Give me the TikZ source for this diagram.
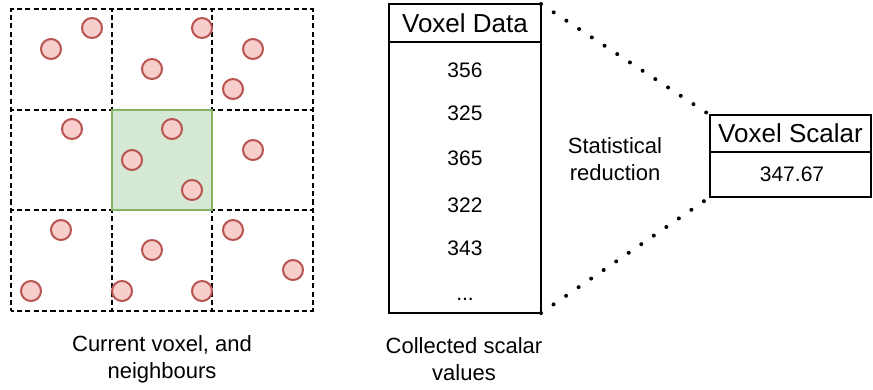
\documentclass[tikz,border=0pt]{standalone}
\usepackage{fontspec}
\setmainfont{Liberation Sans}
\usetikzlibrary{positioning}
\definecolor{sampfill}{HTML}{F8CECC}
\definecolor{sampdraw}{HTML}{B85450}
\definecolor{curfill}{HTML}{D5E8D4}
\definecolor{curdraw}{HTML}{82B366}

\begin{document}
\begin{tikzpicture}[x=1pt, y=-1pt, node distance=0pt]
    \tikzstyle{cell}=[rectangle, minimum size=100.67pt, inner sep=0pt, outer sep=0pt, draw=black, line width=2pt, dash pattern=on 5.2pt off 3.189pt, dash phase=2.6pt]
    \tikzstyle{current}=[cell, fill=curfill, draw=curdraw, solid]
    \tikzstyle{sample}=[circle, minimum size=20pt, inner sep=0pt, fill=sampfill, draw=sampdraw, line width=2pt]
    \tikzstyle{head}=[rectangle, draw=black, line width=2pt, inner sep=0pt, outer sep=0pt, font=\fontsize{26}{30}\selectfont]
    \tikzstyle{body}=[rectangle, draw=black, line width=2pt, inner sep=0pt, outer sep=0pt]
    \tikzstyle{value}=[font=\fontsize{21}{26}\selectfont]
    \tikzstyle{caption}=[align=center, font=\fontsize{22}{27}\selectfont]
    \tikzstyle{reduce}=[line width=4pt, line cap=round, dash pattern=on 0pt off 15.2pt]

      \useasboundingbox (0,0) rectangle (873,389);

      % neighbourhood
      \node[cell, anchor=north west] (c11) at (11,9) {};
      \node[cell] (c12) [right=of c11] {};
      \node[cell] (c13) [right=of c12] {};
      \node[cell] (c21) [below=of c11] {};
      \node[cell] (c23) [below=of c13] {};
      \node[cell] (c31) [below=of c21] {};
      \node[cell] (c32) [right=of c31] {};
      \node[cell] (c33) [right=of c32] {};
      \node[current] (c22) [below=of c12] {};

      \node[sample] (s1) at (92,28) {};
      \node[sample] (s2) at (51,49) {};
      \node[sample] (s3) at (202,28) {};
      \node[sample] (s4) at (152,69) {};
      \node[sample] (s5) at (253,49) {};
      \node[sample] (s6) at (233,89) {};
      \node[sample] (s7) at (72,129) {};
      \node[sample] (s8) at (172,129) {};
      \node[sample] (s9) at (132,160) {};
      \node[sample] (s10) at (192,190) {};
      \node[sample] (s11) at (253,150) {};
      \node[sample] (s12) at (61,230) {};
      \node[sample] (s13) at (152,250) {};
      \node[sample] (s14) at (233,230) {};
      \node[sample] (s15) at (293,270) {};
      \node[sample] (s16) at (31,291) {};
      \node[sample] (s17) at (122,291) {};
      \node[sample] (s18) at (202,291) {};

      \node[caption] (nbcap) at (162,359) {Current voxel, and\\neighbours};

      % collected values
      \node[head, minimum width=152pt, minimum height=38pt, anchor=north west] (dhead) at (389,4) {Voxel Data};
      \node[body, minimum width=152pt, minimum height=271pt] (dbody) [below=of dhead] {};
      \node[value] (v1) at (465,70) {356};
      \node[value] (v2) at (465,113) {325};
      \node[value] (v3) at (465,158) {365};
      \node[value] (v4) at (465,205) {322};
      \node[value] (v5) at (465,248) {343};
      \node[value] (v6) at (465,299) {...};
      \node[caption] (dcap) at (464,359) {Collected scalar\\values};

      % reduced value
      \node[head, minimum width=161pt, minimum height=37pt, anchor=north west] (shead) at (710,115) {Voxel Scalar};
      \node[body, minimum width=161pt, minimum height=45pt] (sbody) [below=of shead] {};
      \node[value] (sval) at (792,174) {347.67};
      \node[caption] (rcap) at (615,159) {Statistical\\reduction};

      \draw[reduce] (dhead.north east) -- (shead.north west);
      \draw[reduce] (dbody.south east) -- (sbody.south west);
    \end{tikzpicture}
\end{document}
